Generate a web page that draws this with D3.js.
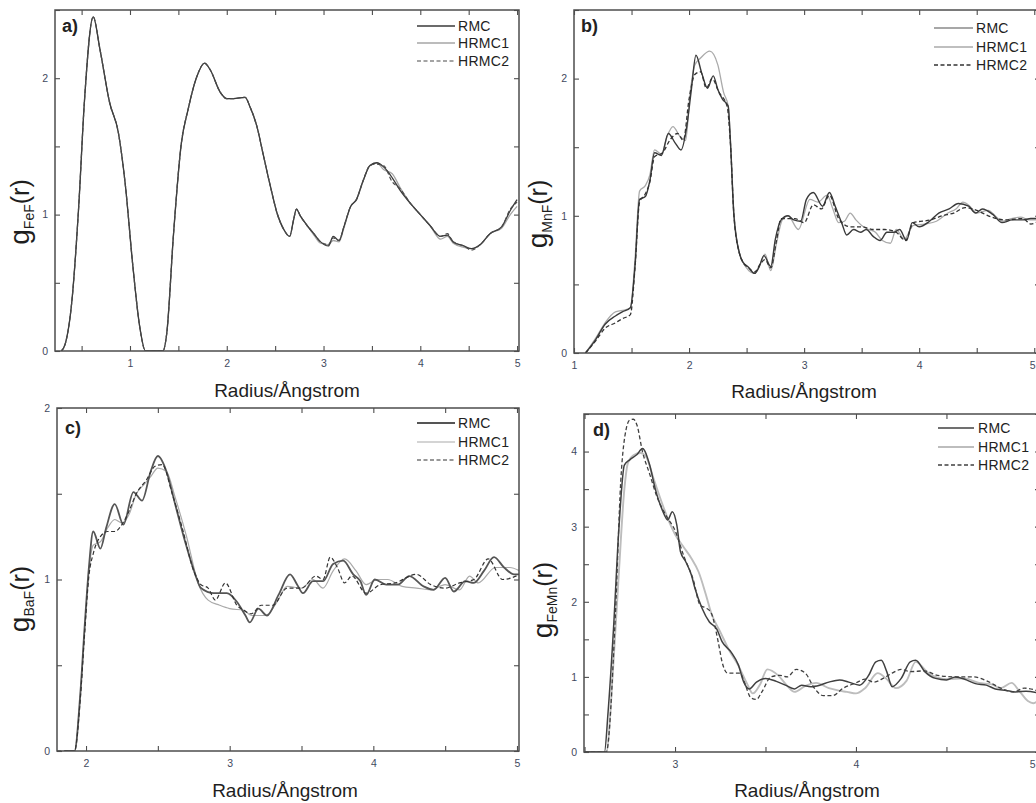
<!DOCTYPE html>
<html><head><meta charset="utf-8">
<script src="https://cdn.jsdelivr.net/npm/d3@7/dist/d3.min.js"></script>
<style>
body{margin:0;background:#fff}
svg{display:block}
text{font-family:"Liberation Sans",Arial,Helvetica,sans-serif}
</style>
</head><body>
<svg id="chart" width="1036" height="803"></svg>
<script>
// ---------------- DATA ----------------
const seriesNames = ["RMC", "HRMC1", "HRMC2"];
const xTitle = "Radius/Ångstrom";

// Panel a : g_FeF(r)  (three series share the radius grid)
const aR = [0.29,0.33,0.40,0.47,0.53,0.62,0.69,0.79,0.88,0.95,1.03,1.10,1.16,1.25,1.34,1.38,1.45,1.53,1.60,1.69,1.77,1.83,1.93,2.00,2.07,2.19,2.24,2.31,2.38,2.45,2.52,2.59,2.65,2.69,2.72,2.76,2.83,2.90,2.97,3.05,3.10,3.16,3.21,3.28,3.34,3.41,3.48,3.55,3.62,3.71,3.79,3.90,4.00,4.10,4.21,4.28,4.34,4.45,4.53,4.62,4.72,4.84,4.93,5.00];
const aRMC   = [0,0.05,0.37,1.06,1.84,2.45,2.21,1.82,1.60,1.23,0.62,0.18,0,0,0,0.13,0.86,1.52,1.77,2.01,2.11,2.06,1.90,1.85,1.85,1.86,1.79,1.65,1.43,1.21,1.01,0.89,0.84,0.96,1.04,0.99,0.92,0.86,0.80,0.77,0.84,0.81,0.91,1.06,1.11,1.25,1.36,1.38,1.35,1.27,1.18,1.08,1.00,0.92,0.84,0.85,0.80,0.77,0.75,0.78,0.86,0.91,1.03,1.11];
const aHRMC1 = [0,0.05,0.37,1.06,1.84,2.45,2.21,1.82,1.60,1.23,0.62,0.18,0,0,0,0.13,0.86,1.52,1.77,2.01,2.11,2.06,1.90,1.85,1.85,1.86,1.79,1.65,1.43,1.21,1.01,0.89,0.84,0.96,1.04,0.99,0.92,0.85,0.79,0.78,0.81,0.80,0.90,1.06,1.11,1.25,1.36,1.38,1.33,1.30,1.20,1.08,1.00,0.92,0.82,0.84,0.79,0.76,0.75,0.78,0.86,0.90,1.00,1.06];
const aHRMC2 = [0,0.05,0.37,1.06,1.84,2.45,2.21,1.82,1.60,1.23,0.62,0.18,0,0,0,0.13,0.86,1.52,1.77,2.01,2.11,2.06,1.90,1.85,1.85,1.86,1.79,1.65,1.43,1.21,1.01,0.89,0.84,0.96,1.04,0.99,0.92,0.86,0.80,0.78,0.83,0.81,0.91,1.06,1.11,1.25,1.36,1.37,1.36,1.24,1.19,1.08,1.00,0.92,0.84,0.86,0.80,0.77,0.74,0.78,0.86,0.91,1.04,1.09];

// Panel b : g_MnF(r)
const bRMC_r = [1.10,1.19,1.27,1.36,1.42,1.49,1.53,1.57,1.62,1.66,1.70,1.76,1.82,1.88,1.93,1.98,2.02,2.06,2.11,2.16,2.21,2.25,2.29,2.34,2.36,2.39,2.44,2.47,2.51,2.57,2.61,2.65,2.71,2.75,2.80,2.86,2.91,2.97,3.02,3.08,3.16,3.22,3.27,3.33,3.37,3.43,3.49,3.54,3.60,3.66,3.72,3.78,3.83,3.89,3.94,4.00,4.09,4.17,4.26,4.34,4.43,4.49,4.55,4.64,4.72,4.81,4.90,4.97,5.05];
const bRMC_g = [0,0.10,0.21,0.27,0.30,0.33,0.63,1.12,1.14,1.26,1.46,1.44,1.60,1.53,1.48,1.65,1.92,2.17,2.04,1.93,2.02,1.92,1.85,1.80,1.53,1.00,0.72,0.66,0.63,0.58,0.63,0.71,0.63,0.83,0.97,1.00,0.97,0.96,1.12,1.17,1.07,1.17,1.07,0.94,0.86,0.90,0.88,0.90,0.85,0.82,0.88,0.88,0.90,0.82,0.95,0.92,0.96,1.02,1.05,1.09,1.07,1.02,1.05,1.01,0.95,0.97,0.97,0.98,0.98];
const bHRMC1_r = [1.10,1.19,1.27,1.36,1.42,1.49,1.53,1.57,1.62,1.66,1.70,1.76,1.81,1.86,1.92,1.97,2.01,2.05,2.10,2.18,2.25,2.30,2.34,2.36,2.39,2.44,2.47,2.52,2.57,2.62,2.66,2.71,2.76,2.81,2.86,2.95,3.05,3.12,3.20,3.25,3.30,3.35,3.40,3.45,3.50,3.56,3.62,3.68,3.75,3.80,3.87,3.95,4.05,4.15,4.25,4.32,4.38,4.44,4.50,4.60,4.66,4.72,4.80,4.88,4.96,5.05];
const bHRMC1_g = [0,0.11,0.22,0.30,0.31,0.33,0.68,1.18,1.22,1.30,1.48,1.45,1.58,1.65,1.58,1.55,1.90,2.10,2.15,2.20,2.10,1.90,1.80,1.55,1.02,0.72,0.66,0.60,0.58,0.65,0.72,0.60,0.80,0.97,1.00,0.90,1.12,1.10,1.15,1.05,0.95,0.96,1.02,0.97,0.93,0.90,0.88,0.82,0.80,0.90,0.83,0.93,0.94,0.96,1.02,1.05,1.10,1.07,1.02,1.04,1.00,0.96,0.98,0.99,0.97,0.97];
const bHRMC2_r = [1.10,1.19,1.27,1.36,1.42,1.49,1.53,1.57,1.62,1.66,1.70,1.77,1.84,1.90,1.95,2.00,2.05,2.10,2.15,2.20,2.26,2.33,2.36,2.39,2.44,2.47,2.52,2.57,2.62,2.66,2.71,2.76,2.80,2.86,2.92,3.00,3.08,3.15,3.22,3.30,3.40,3.50,3.60,3.70,3.80,3.88,3.95,4.10,4.20,4.30,4.40,4.50,4.60,4.75,4.90,4.97,5.05];
const bHRMC2_g = [0,0.09,0.18,0.22,0.25,0.28,0.62,1.10,1.16,1.25,1.43,1.46,1.56,1.60,1.55,1.85,2.03,2.05,1.93,2.00,1.90,1.80,1.52,1.00,0.72,0.66,0.62,0.59,0.65,0.68,0.62,0.82,0.98,0.98,0.98,0.95,1.08,1.05,1.15,0.98,0.92,0.92,0.90,0.90,0.88,0.82,0.95,0.97,1.00,1.02,1.06,1.04,1.00,0.97,0.98,0.94,0.97];

// Panel c : g_BaF(r)
const cRMC_r = [1.85,1.92,1.96,1.99,2.02,2.05,2.10,2.14,2.20,2.26,2.33,2.39,2.45,2.50,2.56,2.62,2.69,2.76,2.80,2.89,2.98,3.05,3.11,3.14,3.20,3.26,3.34,3.42,3.47,3.51,3.58,3.65,3.72,3.79,3.86,3.91,3.95,4.01,4.09,4.17,4.25,4.35,4.42,4.50,4.56,4.64,4.70,4.77,4.84,4.91,4.98,5.02];
const cRMC_g = [0,0,0.33,0.72,1.07,1.28,1.18,1.30,1.44,1.32,1.51,1.46,1.63,1.72,1.63,1.44,1.22,1.03,0.95,0.92,0.92,0.87,0.79,0.75,0.83,0.79,0.91,1.03,0.97,0.92,0.99,0.99,1.09,1.11,1.03,0.99,0.91,1.00,0.97,0.97,1.02,0.96,0.94,1.01,0.93,0.99,0.98,1.05,1.13,1.07,1.03,1.03];
const cHRMC1_r = [1.85,1.92,1.96,1.99,2.02,2.05,2.10,2.15,2.20,2.25,2.30,2.35,2.40,2.45,2.50,2.56,2.62,2.70,2.78,2.85,2.93,3.00,3.10,3.15,3.20,3.25,3.33,3.40,3.50,3.58,3.65,3.72,3.80,3.88,3.95,4.03,4.10,4.20,4.30,4.40,4.50,4.60,4.67,4.73,4.85,4.95,5.02];
const cHRMC1_g = [0,0,0.32,0.70,1.05,1.20,1.22,1.30,1.35,1.33,1.38,1.50,1.55,1.60,1.65,1.63,1.48,1.25,0.98,0.88,0.85,0.83,0.82,0.79,0.79,0.79,0.87,0.96,0.95,1.00,0.95,1.05,1.12,1.05,0.97,1.00,1.00,0.96,0.95,0.94,0.97,0.94,1.02,0.98,1.07,1.07,1.05];
const cHRMC2_r = [1.80,1.92,1.96,1.99,2.02,2.05,2.10,2.15,2.20,2.25,2.30,2.35,2.42,2.48,2.53,2.60,2.67,2.75,2.80,2.85,2.90,2.97,3.05,3.10,3.15,3.22,3.30,3.40,3.50,3.60,3.65,3.70,3.75,3.80,3.85,3.95,4.05,4.15,4.30,4.40,4.50,4.60,4.70,4.80,4.90,5.02];
const cHRMC2_g = [0,0,0.30,0.68,1.02,1.15,1.25,1.28,1.28,1.32,1.40,1.50,1.58,1.66,1.67,1.50,1.30,1.05,0.97,0.95,0.88,0.98,0.85,0.82,0.80,0.85,0.85,0.95,0.95,1.02,1.00,1.13,1.07,0.98,1.02,0.92,0.97,0.98,1.03,0.97,0.95,0.98,1.00,1.12,1.00,1.03];

// Panel d : g_FeMn(r)
const dRMC_r = [2.50,2.61,2.63,2.66,2.69,2.72,2.75,2.79,2.82,2.86,2.89,2.93,2.96,2.985,3.01,3.03,3.06,3.09,3.11,3.15,3.19,3.23,3.26,3.31,3.35,3.38,3.41,3.45,3.50,3.56,3.61,3.66,3.70,3.75,3.80,3.85,3.91,3.96,4.02,4.07,4.11,4.14,4.17,4.20,4.25,4.30,4.33,4.38,4.44,4.50,4.55,4.61,4.66,4.72,4.77,4.83,4.88,4.94,5.02];
const dRMC_g = [0,0,0.53,1.64,2.98,3.82,3.89,3.96,4.04,3.82,3.51,3.22,3.09,3.20,3.02,2.67,2.53,2.36,2.18,1.91,1.73,1.64,1.47,1.33,1.16,0.93,0.84,0.93,0.98,0.94,0.89,0.84,0.89,0.87,0.89,0.93,0.96,0.93,0.89,1.02,1.20,1.22,1.07,0.87,0.98,1.20,1.22,1.07,0.98,0.96,1.00,0.96,0.91,0.89,0.84,0.82,0.80,0.81,0.78];
const dHRMC1_r = [2.50,2.62,2.66,2.69,2.72,2.74,2.77,2.81,2.84,2.88,2.93,2.97,3.00,3.05,3.09,3.13,3.17,3.20,3.25,3.30,3.35,3.40,3.43,3.47,3.51,3.57,3.62,3.66,3.72,3.78,3.85,3.90,3.95,4.00,4.05,4.12,4.17,4.22,4.28,4.33,4.40,4.50,4.60,4.68,4.75,4.80,4.86,4.90,4.95,4.98,5.02];
const dHRMC1_g = [0,0,1.20,2.40,3.50,3.85,3.95,3.98,3.93,3.65,3.30,3.05,2.90,2.72,2.58,2.40,2.10,1.85,1.60,1.35,1.15,0.90,0.78,0.90,1.10,1.02,0.88,0.80,0.88,0.92,0.85,0.82,0.80,0.78,0.85,1.05,0.97,0.85,0.95,1.20,1.05,0.97,0.98,0.92,0.90,0.85,0.92,0.82,0.68,0.65,0.72];
const dHRMC2_r = [2.50,2.62,2.67,2.70,2.73,2.75,2.77,2.79,2.82,2.86,2.90,2.95,3.00,3.05,3.10,3.14,3.17,3.20,3.24,3.26,3.29,3.33,3.36,3.38,3.42,3.45,3.48,3.53,3.58,3.62,3.67,3.72,3.77,3.82,3.87,3.93,4.00,4.05,4.10,4.15,4.20,4.25,4.30,4.38,4.45,4.55,4.65,4.72,4.80,4.87,4.93,5.02];
const dHRMC2_g = [0,0,1.80,3.60,4.30,4.42,4.43,4.35,4.00,3.70,3.40,3.15,2.95,2.60,2.30,1.95,1.92,1.85,1.45,1.20,1.05,1.05,1.05,0.95,0.72,0.70,0.80,1.00,1.02,1.00,1.10,1.05,0.85,0.75,0.75,0.85,0.92,0.97,0.93,0.98,1.05,1.10,1.07,1.08,1.02,1.00,1.00,0.95,0.85,0.80,0.85,0.80];

// ---------------- LAYOUT / STYLE ----------------
const panels = [
  { tag:"a)", sub:"FeF", box:{l:55,r:519,t:10,b:351}, xd:[0.225,5.02], yd:[0,2.5],
    series:[{x:aR,y:aHRMC1},{x:aR,y:aRMC},{x:aR,y:aHRMC2}],
    style:[{c:"#3a3a3a",w:1.3},{c:"#a6a6a6",w:1.3},{c:"#4a4a4a",w:1.2,dash:"4,2.5"}],
    tagPos:[62,32], legend:{x0:417,x1:455,tx:458,ys:[26,43,61]}, ylab:[29,212], xlab:[287,397] },
  { tag:"b)", sub:"MnF", box:{l:574,r:1040,t:10,b:353}, xd:[1,5.05], yd:[0,2.5],
    series:[{x:bHRMC1_r,y:bHRMC1_g},{x:bRMC_r,y:bRMC_g},{x:bHRMC2_r,y:bHRMC2_g}],
    style:[{c:"#3a3a3a",w:1.4,lc:"#8a8a8a"},{c:"#aaaaaa",w:1.3},{c:"#333333",w:1.3,dash:"4,2.5"}],
    tagPos:[581,32], legend:{x0:934,x1:973,tx:976,ys:[28,47,65]}, ylab:[547,214], xlab:[804,398] },
  { tag:"c)", sub:"BaF", box:{l:57,r:519,t:408,b:751}, xd:[1.798,5.014], yd:[0,2],
    series:[{x:cHRMC1_r,y:cHRMC1_g},{x:cRMC_r,y:cRMC_g},{x:cHRMC2_r,y:cHRMC2_g}],
    style:[{c:"#555555",w:1.8},{c:"#aaaaaa",w:1.2},{c:"#333333",w:1.2,dash:"4,2.5"}],
    tagPos:[65,434], legend:{x0:417,x1:455,tx:458,ys:[423,442,460]}, ylab:[29,599], xlab:[285,797] },
  { tag:"d)", sub:"FeMn", box:{l:584,r:1040,t:414,b:752}, xd:[2.497,5.017], yd:[0,4.5],
    series:[{x:dHRMC1_r,y:dHRMC1_g},{x:dRMC_r,y:dRMC_g},{x:dHRMC2_r,y:dHRMC2_g}],
    style:[{c:"#404040",w:1.5},{c:"#bdbdbd",w:1.9},{c:"#404040",w:1.3,dash:"4,2.5"}],
    tagPos:[593,436], legend:{x0:938,x1:974,tx:978,ys:[428,447,465]}, ylab:[552,600], xlab:[807,797] }
];
// series[] order is draw order: HRMC1, RMC, HRMC2 ; style[] order is legend order RMC, HRMC1, HRMC2
const drawStyleIdx = [1, 0, 2];

const svg = d3.select("#chart");
svg.append("rect").attr("width",1036).attr("height",803).attr("fill","#fff");

const tickCol = "#3f4a5e";
const frameCol = "#4d4d4d";
const W = 1036;

panels.forEach((p, pi) => {
  const B = p.box;
  const x = d3.scaleLinear().domain(p.xd).range([B.l, B.r]);
  const y = d3.scaleLinear().domain(p.yd).range([B.b, B.t]);
  const g = svg.append("g");

  const clipId = "clip" + pi;
  g.append("clipPath").attr("id", clipId).append("rect")
    .attr("x", B.l).attr("y", B.t - 2).attr("width", B.r - B.l).attr("height", B.b - B.t + 2);

  const eps = 1e-6;
  const xt = d3.range(Math.ceil(p.xd[0]*2)/2, p.xd[1] + eps, 0.5);
  const yt = d3.range(0, p.yd[1] + eps, 0.5);
  const isInt = v => Math.abs(v - Math.round(v)) < 1e-6;
  const fmt = v => isInt(v) ? d3.format("d")(v) : "";

  const axB = g.append("g").attr("transform", `translate(0,${B.b})`)
    .call(d3.axisBottom(x).tickValues(xt).tickFormat(fmt).tickSizeInner(-5).tickSizeOuter(0).tickPadding(9));
  const axT = g.append("g").attr("transform", `translate(0,${B.t})`)
    .call(d3.axisTop(x).tickValues(xt).tickFormat("").tickSizeInner(-5).tickSizeOuter(0));
  const yLab = v => (isInt(v) && (v < p.yd[1] - eps || pi === 2)) ? d3.format("d")(v) : "";
  const axL = g.append("g").attr("transform", `translate(${B.l},0)`)
    .call(d3.axisLeft(y).tickValues(yt).tickFormat(yLab).tickSizeInner(-5).tickSizeOuter(0).tickPadding(7));
  const axR = g.append("g").attr("transform", `translate(${B.r},0)`)
    .call(d3.axisRight(y).tickValues(yt).tickFormat("").tickSizeInner(-5).tickSizeOuter(0));
  [axB, axT, axL, axR].forEach(a => {
    a.select(".domain").remove();
    a.selectAll("line").attr("stroke", frameCol).attr("stroke-width", 1.1);
    a.selectAll("text").attr("fill", tickCol).attr("font-size", 10.5)
      .attr("font-family", '"Liberation Sans",Arial,sans-serif');
  });
  // keep edge tick labels inside the page
  axB.selectAll(".tick").each(function(v) {
    if (x(v) + 4 > W) d3.select(this).select("text").attr("text-anchor", "end").attr("x", W - 1 - x(v));
  });

  const line = d3.line().x(d => x(d[0])).y(d => y(d[1])).curve(d3.curveMonotoneX);
  const lg = g.append("g").attr("clip-path", `url(#${clipId})`);
  p.series.forEach((s, si) => {
    const st = p.style[drawStyleIdx[si]];
    const pts = s.x.map((v, i) => [v, s.y[i]]);
    lg.append("path").attr("d", line(pts)).attr("fill", "none")
      .attr("stroke", st.c).attr("stroke-width", st.w)
      .attr("stroke-dasharray", st.dash || null)
      .attr("stroke-linejoin", "round");
  });

  g.append("rect").attr("x", B.l).attr("y", B.t).attr("width", B.r - B.l).attr("height", B.b - B.t)
    .attr("fill", "none").attr("stroke", frameCol).attr("stroke-width", 1.5);

  g.append("text").attr("x", p.tagPos[0]).attr("y", p.tagPos[1])
    .attr("font-size", 18).attr("font-weight", "bold").attr("fill", "#222").text(p.tag);

  seriesNames.forEach((name, i) => {
    const st = p.style[i];
    const yy = p.legend.ys[i];
    g.append("line").attr("x1", p.legend.x0).attr("x2", p.legend.x1).attr("y1", yy).attr("y2", yy)
      .attr("stroke", st.lc || st.c).attr("stroke-width", st.w).attr("stroke-dasharray", st.dash || null);
    g.append("text").attr("x", p.legend.tx).attr("y", yy + 5).attr("font-size", 14)
      .attr("fill", "#222").attr("letter-spacing", 0.3).text(name);
  });

  g.append("text").attr("x", p.xlab[0]).attr("y", p.xlab[1])
    .attr("text-anchor", "middle").attr("font-size", 19).attr("fill", "#1e1e1e").text(xTitle);

  const yt2 = g.append("text").attr("transform", `translate(${p.ylab[0]},${p.ylab[1]}) rotate(-90)`)
    .attr("text-anchor", "middle").attr("fill", "#1e1e1e");
  yt2.append("tspan").attr("font-size", 28).text("g");
  yt2.append("tspan").attr("font-size", 14).attr("dy", 5).text(p.sub);
  yt2.append("tspan").attr("font-size", 25).attr("dy", -5).text("(r)");
});
</script>
</body></html>
